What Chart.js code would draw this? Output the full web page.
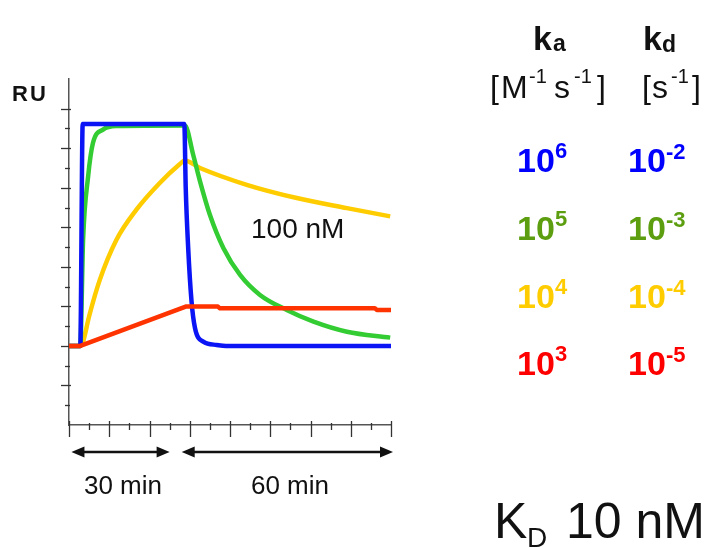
<!DOCTYPE html>
<html>
<head>
<meta charset="utf-8">
<script src="https://cdn.jsdelivr.net/npm/chart.js@4/dist/chart.umd.min.js"></script>
<style>
  body { margin: 0; background: #fff; }
  #sensorChart { display: block; }
</style>
</head>
<body>
<canvas id="sensorChart" width="716" height="548"></canvas>
<script>
// sensorgram values, x in axis tick units, y in RU tick units
const blueX = [0, 0.56, 0.68, 5.73, 5.8, 5.92, 6.09, 6.26, 6.67, 7.34, 7.8, 16];
const blueY = [4, 4, 15.22, 15.22, 12.0, 9.0, 6.24, 4.91, 4.22, 4.05, 4.0, 4.0];

const greenX = [0, 0.56, 0.70, 0.95, 1.19, 1.69, 2.36, 5.73, 5.76, 6.17, 6.51, 7.0, 7.67, 8.5, 9.49, 10.82, 12.15, 13.81, 15.96];
const greenY = [4, 4, 9.37, 12.57, 14.26, 14.94, 15.12, 15.15, 15.15, 13.67, 12.32, 10.63, 8.95, 7.59, 6.58, 5.82, 5.23, 4.72, 4.42];

const yellowX = [0, 0.56, 0.68, 1.0, 1.53, 2.36, 3.35, 4.51, 5.51, 5.75, 6.51, 8.83, 11.32, 13.81, 15.96];
const yellowY = [4, 4, 4.15, 5.5, 7.34, 9.37, 10.89, 12.24, 13.2, 13.38, 13.0, 12.15, 11.48, 10.97, 10.55];

const redX = [0, 0.56, 5.8, 7.4, 7.5, 15.2, 15.3, 16];
const redY = [4, 4, 5.99, 5.99, 5.9, 5.9, 5.82, 5.82];

// labels for the rate constant table
const kaExp = ['6', '5', '4', '3'];
const kdExp = ['-2', '-3', '-4', '-5'];
const rowColors = ['#0000ff', '#5c9e10', '#ffcc00', '#ff0000'];
const timeLabels = ['30 min', '60 min'];

const toPoints = (xs, ys) => xs.map((x, i) => ({ x: x, y: ys[i] }));

const FONT = '"Liberation Sans", Arial, sans-serif';

const tickMarks = {
  id: 'tickMarks',
  beforeDatasetsDraw(chart) {
    const ctx = chart.ctx;
    const xs = chart.scales.x;
    const ys = chart.scales.y;
    const area = chart.chartArea;
    ctx.save();
    ctx.strokeStyle = '#333';
    ctx.lineWidth = 1.3;
    ys.ticks.forEach(t => {
      if (t.value === 0 || t.value % 1 !== 0) return;
      const py = Math.round(ys.getPixelForValue(t.value)) + 0.5;
      const major = t.value % 2 === 0;
      ctx.beginPath();
      ctx.moveTo(area.left - (major ? 8 : 4), py);
      ctx.lineTo(area.left + (major ? 2 : 1), py);
      ctx.stroke();
    });
    xs.ticks.forEach(t => {
      if (t.value % 1 !== 0) return;
      const px = Math.round(xs.getPixelForValue(t.value)) + 0.5;
      const major = t.value % 2 === 0;
      ctx.beginPath();
      ctx.moveTo(px, area.bottom - (major ? 4 : 2));
      ctx.lineTo(px, area.bottom + (major ? 12 : 5));
      ctx.stroke();
    });
    ctx.restore();
  }
};

const arrow = (ctx, x1, x2, y) => {
  ctx.beginPath();
  ctx.moveTo(x1 + 6, y);
  ctx.lineTo(x2 - 6, y);
  ctx.stroke();
  ctx.beginPath();
  ctx.moveTo(x1, y); ctx.lineTo(x1 + 13, y - 5.5); ctx.lineTo(x1 + 13, y + 5.5); ctx.closePath();
  ctx.fill();
  ctx.beginPath();
  ctx.moveTo(x2, y); ctx.lineTo(x2 - 13, y - 5.5); ctx.lineTo(x2 - 13, y + 5.5); ctx.closePath();
  ctx.fill();
};

const annotations = {
  id: 'annotations',
  afterDraw(chart) {
    const ctx = chart.ctx;
    const xs = chart.scales.x;
    ctx.save();
    ctx.fillStyle = '#111';
    ctx.strokeStyle = '#111';
    ctx.textBaseline = 'alphabetic';

    // RU label
    ctx.font = 'bold 22px ' + FONT;
    ctx.letterSpacing = '2px';
    ctx.fillText('RU', 12, 101);
    ctx.letterSpacing = '0px';

    // concentration label
    ctx.font = '28px ' + FONT;
    ctx.fillText('100 nM', 251, 238);

    // time arrows under the x axis
    ctx.lineWidth = 2.5;
    const y0 = 452;
    arrow(ctx, xs.getPixelForValue(0.12), xs.getPixelForValue(5.0), y0);
    arrow(ctx, xs.getPixelForValue(5.6), xs.getPixelForValue(16.1), y0);
    ctx.font = '26px ' + FONT;
    ctx.textAlign = 'center';
    ctx.fillText(timeLabels[0], 123, 494);
    ctx.fillText(timeLabels[1], 290, 494);
    ctx.textAlign = 'left';

    // table header
    ctx.font = 'bold 34px ' + FONT;
    ctx.fillText('k', 533, 50);
    ctx.fillText('k', 643, 50);
    ctx.font = 'bold 23px ' + FONT;
    ctx.fillText('a', 553, 51);
    ctx.fillText('d', 662, 52);

    ctx.font = '32px ' + FONT;
    ctx.fillText('[', 490, 98);
    ctx.fillText('M', 501, 98);
    ctx.fillText('s', 554, 98);
    ctx.fillText(']', 597, 98);
    ctx.fillText('[', 642, 98);
    ctx.fillText('s', 652, 98);
    ctx.fillText(']', 692, 98);
    ctx.font = '20px ' + FONT;
    ctx.fillText('-1', 529, 83);
    ctx.fillText('-1', 574, 83);
    ctx.fillText('-1', 671, 83);

    // rate constants
    const rowBase = [172, 240, 308, 375];
    for (let i = 0; i < kaExp.length; i++) {
      ctx.fillStyle = rowColors[i];
      ctx.font = 'bold 34px ' + FONT;
      ctx.fillText('10', 517, rowBase[i]);
      ctx.fillText('10', 628, rowBase[i]);
      ctx.font = 'bold 22px ' + FONT;
      ctx.fillText(kaExp[i], 555, rowBase[i] - 14);
      ctx.fillText(kdExp[i], 666, rowBase[i] - 13);
    }

    // dissociation constant
    ctx.fillStyle = '#111';
    ctx.font = '50px ' + FONT;
    ctx.fillText('K', 494, 538);
    ctx.fillText('10 nM', 566, 538);
    ctx.font = '28px ' + FONT;
    ctx.fillText('D', 527, 547);
    ctx.restore();
  }
};

const ctx = document.getElementById('sensorChart').getContext('2d');
const sensorChart = new Chart(ctx, {
  type: 'line',
  data: {
    datasets: [
      { label: 'red', data: toPoints(redX, redY), borderColor: '#ff3300', order: 0, cubicInterpolationMode: 'default', tension: 0 },
      { label: 'blue', data: toPoints(blueX, blueY), borderColor: '#0a14f5', order: 1 },
      { label: 'green', data: toPoints(greenX, greenY), borderColor: '#33cc33', order: 2 },
      { label: 'yellow', data: toPoints(yellowX, yellowY), borderColor: '#ffcc00', order: 3 }
    ]
  },
  options: {
    responsive: false,
    animation: false,
    devicePixelRatio: 1,
    layout: { padding: { left: 69, top: 79, right: 325, bottom: 123 } },
    plugins: { legend: { display: false }, tooltip: { enabled: false } },
    elements: {
      point: { radius: 0 },
      line: { borderWidth: 4.5, cubicInterpolationMode: 'monotone', fill: false, borderJoinStyle: 'round' }
    },
    scales: {
      x: {
        type: 'linear', min: 0, max: 16,
        ticks: { display: false, stepSize: 1 },
        grid: { display: false, drawTicks: false },
        border: { display: true, color: '#555', width: 1.5 }
      },
      y: {
        type: 'linear', min: 0, max: 17.5,
        ticks: { display: false, stepSize: 1 },
        grid: { display: false, drawTicks: false },
        border: { display: true, color: '#555', width: 1.5 }
      }
    }
  },
  plugins: [tickMarks, annotations]
});
</script>
</body>
</html>
